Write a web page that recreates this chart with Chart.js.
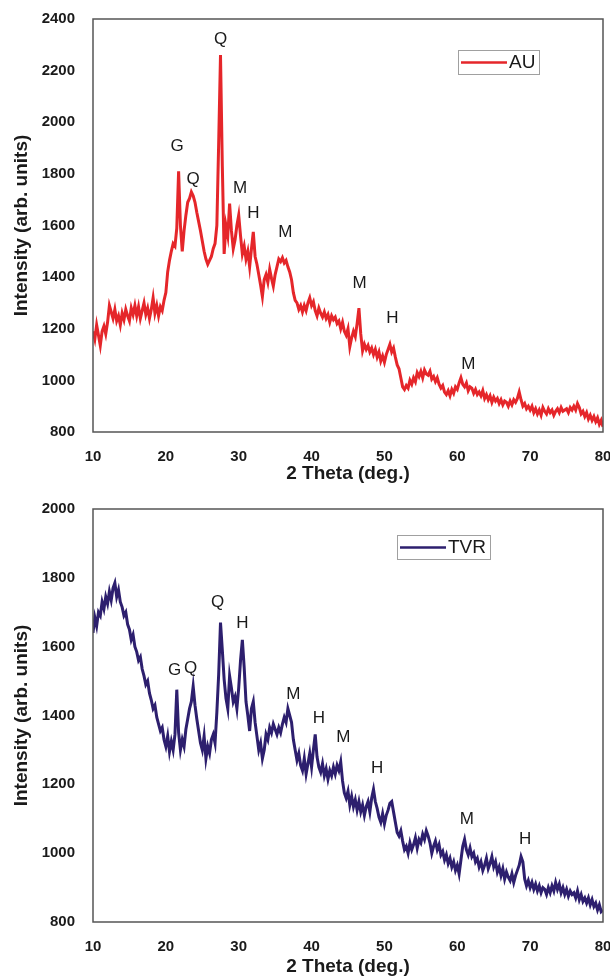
<!DOCTYPE html>
<html><head><meta charset="utf-8">
<script src="https://cdn.jsdelivr.net/npm/chart.js@4.4.1/dist/chart.umd.min.js"></script>
<style>
html,body{margin:0;padding:0;background:#fff;width:610px;height:979px;overflow:hidden;}
canvas{position:absolute;left:0;}
#c1{top:0;}
#c2{top:490px;}
</style></head><body>
<canvas id="c1" width="610" height="490"></canvas>
<canvas id="c2" width="610" height="489"></canvas>
<script>
// 2-theta sampling grid (degrees): start and step
const thetaStart = 10;
const thetaStep = 0.25;

// AU intensities, one row per degree (x.00, x.25, x.50, x.75), last value at 80
const auIntensity = [
1190,1160,1215,1175,
1135,1190,1210,1180,
1225,1290,1265,1240,
1275,1230,1250,1215,
1260,1235,1275,1250,
1230,1280,1255,1290,
1250,1285,1240,1270,
1300,1255,1280,1240,
1275,1320,1260,1290,
1250,1285,1270,1310,
1340,1420,1465,1500,
1530,1520,1590,1810,
1600,1500,1580,1640,
1690,1705,1730,1715,
1690,1650,1615,1580,
1540,1500,1470,1450,
1465,1480,1510,1530,
1600,1920,2260,1830,
1490,1600,1560,1685,
1580,1510,1545,1600,
1640,1560,1490,1520,
1470,1500,1440,1510,
1575,1480,1450,1410,
1370,1325,1390,1410,
1380,1430,1395,1365,
1410,1440,1470,1460,
1475,1455,1465,1440,
1420,1390,1340,1310,
1300,1275,1290,1265,
1290,1270,1300,1320,
1290,1305,1270,1250,
1280,1260,1245,1265,
1240,1255,1225,1250,
1235,1245,1220,1230,
1200,1225,1190,1175,
1200,1130,1165,1190,
1170,1220,1280,1180,
1115,1140,1120,1135,
1110,1125,1100,1120,
1090,1110,1075,1095,
1070,1100,1120,1140,
1110,1125,1090,1060,
1045,1010,975,965,
980,970,1000,985,
1010,995,1030,1015,
1035,1010,1040,1025,
1020,1035,1005,1015,
995,1010,985,970,
980,955,945,960,
940,965,950,975,
965,990,1010,985,
975,990,960,975,
970,950,965,945,
955,940,960,930,
945,925,940,915,
935,920,930,910,
925,905,920,915,
900,920,905,925,
915,930,955,925,
900,910,890,900,
885,900,875,890,
870,885,865,895,
880,870,890,875,
885,865,880,890,
875,895,880,885,
890,875,895,885,
900,885,910,895,
870,880,860,875,
850,865,845,860,
840,855,830,845,
820
];

// TVR intensities, same grid
const tvrIntensity = [
1640,1685,1660,1700,
1690,1730,1710,1745,
1725,1760,1735,1770,
1785,1745,1765,1730,
1715,1690,1700,1665,
1650,1620,1635,1600,
1585,1560,1570,1535,
1515,1490,1500,1465,
1445,1420,1430,1395,
1375,1355,1365,1330,
1310,1340,1295,1325,
1300,1345,1475,1350,
1300,1330,1310,1360,
1390,1420,1440,1485,
1430,1390,1355,1320,
1300,1340,1275,1310,
1290,1330,1345,1320,
1410,1520,1670,1590,
1505,1450,1420,1515,
1480,1440,1455,1420,
1480,1560,1620,1540,
1440,1400,1355,1420,
1440,1380,1340,1300,
1320,1275,1300,1345,
1330,1365,1350,1375,
1360,1345,1365,1350,
1375,1395,1380,1420,
1400,1380,1330,1300,
1270,1290,1255,1240,
1275,1230,1260,1290,
1250,1300,1345,1280,
1250,1235,1260,1225,
1245,1215,1240,1225,
1250,1230,1255,1240,
1265,1210,1175,1160,
1180,1140,1165,1135,
1155,1125,1150,1120,
1140,1110,1135,1150,
1120,1160,1185,1150,
1130,1105,1090,1115,
1085,1110,1125,1145,
1150,1120,1090,1060,
1050,1065,1035,1010,
1020,1000,1030,1010,
1025,1045,1015,1040,
1030,1055,1040,1065,
1050,1030,1000,1020,
1035,1010,1025,995,
1005,980,995,970,
985,960,975,950,
965,940,980,1020,
1040,1010,995,1015,
990,1000,975,985,
960,975,950,965,
985,955,970,990,
960,975,945,960,
935,955,925,945,
930,920,940,915,
935,950,965,990,
975,925,905,920,
900,915,895,910,
890,905,885,900,
895,880,900,885,
905,890,915,895,
910,885,900,880,
895,875,890,880,
885,870,890,865,
880,860,870,855,
870,850,865,845,
855,835,850,830,
835
];

// Peak annotations
const auPeakLabels = ['G','Q','Q','M','H','M','M','H','M'];
const auPeakTheta = [21.55,23.75,27.5,30.2,32.0,36.4,46.6,51.1,61.5];
const auPeakIntensity = [1905,1780,2323,1744,1648,1575,1377,1240,1063];

const tvrPeakLabels = ['G','Q','Q','H','M','H','M','H','M','H'];
const tvrPeakTheta = [21.2,23.4,27.1,30.5,37.5,41.0,44.35,49.0,61.3,69.3];
const tvrPeakIntensity = [1530,1537,1729,1669,1463,1393,1338,1247,1098,1041];

const FONT = '"Liberation Sans", Arial, Helvetica, sans-serif';

function toPoints(values) {
  return values.map((v, i) => ({ x: thetaStart + i * thetaStep, y: v }));
}

const decor = {
  id: 'decor',
  afterDatasetsDraw(chart, args, opts) {
    const { ctx, chartArea: a, scales: { x, y } } = chart;
    ctx.save();
    ctx.strokeStyle = '#555';
    ctx.lineWidth = 1.5;
    ctx.strokeRect(a.left, a.top, a.right - a.left, a.bottom - a.top);
    ctx.fillStyle = '#1a1a1a';
    ctx.font = '17px ' + FONT;
    ctx.textAlign = 'center';
    ctx.textBaseline = 'middle';
    opts.labels.forEach((t, i) => {
      ctx.fillText(t, x.getPixelForValue(opts.theta[i]), y.getPixelForValue(opts.intensity[i]));
    });
    const L = opts.legend;
    ctx.fillStyle = '#fff';
    ctx.fillRect(L.x, L.y, L.w, L.h);
    ctx.strokeStyle = '#a0a0a0';
    ctx.lineWidth = 1;
    ctx.strokeRect(L.x + 0.5, L.y + 0.5, L.w, L.h);
    ctx.strokeStyle = opts.color;
    ctx.lineWidth = 2.5;
    ctx.beginPath();
    ctx.moveTo(L.x + 3, L.y + L.h / 2 + 0.5);
    ctx.lineTo(L.x + 3 + L.line, L.y + L.h / 2 + 0.5);
    ctx.stroke();
    ctx.fillStyle = '#1a1a1a';
    ctx.font = '19px ' + FONT;
    ctx.textAlign = 'left';
    ctx.fillText(opts.name, L.x + L.line + 5, L.y + L.h / 2 + 1);
    ctx.restore();
  }
};

function makeChart(id, values, name, color, yMax, xHeight, titlePadBottom, ann, legend) {
  return new Chart(document.getElementById(id), {
    type: 'line',
    data: { datasets: [{ label: name, data: toPoints(values), borderColor: color, borderWidth: 3, borderJoinStyle: 'miter', pointRadius: 0, tension: 0, fill: false }] },
    options: {
      responsive: false,
      animation: false,
      layout: { padding: { top: 15, right: 7, left: 0, bottom: 0 } },
      plugins: {
        legend: { display: false },
        tooltip: { enabled: false },
        decor: { labels: ann[0], theta: ann[1], intensity: ann[2], legend: legend, color: color, name: name }
      },
      scales: {
        x: {
          type: 'linear', min: 10, max: 80,
          grid: { display: false }, border: { display: false },
          ticks: { stepSize: 10, padding: 8, maxRotation: 0, color: '#1a1a1a', font: { family: FONT, size: 15, weight: 'bold' }, callback: v => String(v) },
          title: { display: true, text: '2 Theta (deg.)', color: '#1a1a1a', font: { family: FONT, size: 19, weight: 'bold' }, padding: { top: 0, bottom: titlePadBottom } },
          afterFit(s) { s.height = xHeight; s.paddingRight = 0; s.paddingLeft = 0; }
        },
        y: {
          min: 800, max: yMax,
          grid: { display: false }, border: { display: false },
          ticks: { stepSize: 200, padding: 10, color: '#1a1a1a', font: { family: FONT, size: 15, weight: 'bold' }, callback: v => String(v) },
          title: { display: true, text: 'Intensity (arb. units)', color: '#1a1a1a', font: { family: FONT, size: 19, weight: 'bold' }, padding: { top: 10, bottom: 0 } },
          afterFit(s) { s.width = 93; }
        }
      }
    },
    plugins: [decor]
  });
}

makeChart('c1', auIntensity, 'AU', '#E5262A', 2400, 58, 5,
  [auPeakLabels, auPeakTheta, auPeakIntensity],
  { x: 458, y: 50, w: 81, h: 24, line: 46 });
makeChart('c2', tvrIntensity, 'TVR', '#2D1F6E', 2000, 57, 1,
  [tvrPeakLabels, tvrPeakTheta, tvrPeakIntensity],
  { x: 397, y: 45, w: 93, h: 24, line: 46 });
</script>
</body></html>
